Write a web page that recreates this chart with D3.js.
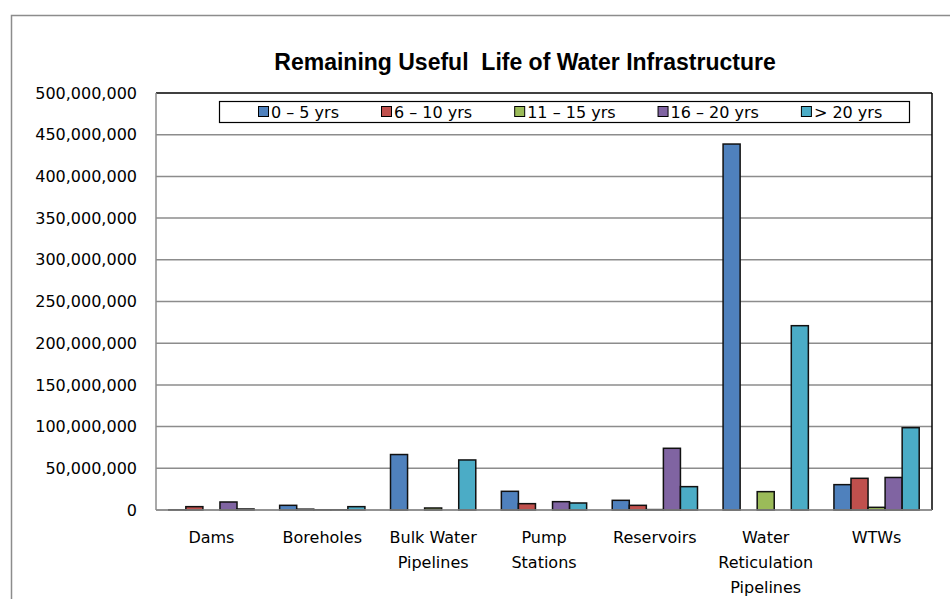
<!DOCTYPE html>
<html>
<head>
<meta charset="utf-8">
<script src="https://cdn.jsdelivr.net/npm/d3@7"></script>
<style>
  body { margin: 0; background: #ffffff; }
  svg { display: block; }
</style>
</head>
<body>
<div id="chart"></div>
<script>
// #####################################################
// Data
//
var categories = ["Dams", "Boreholes", "Bulk Water Pipelines", "Pump Stations",
                  "Reservoirs", "Water Reticulation Pipelines", "WTWs"];
var categoryLines = [["Dams"], ["Boreholes"], ["Bulk Water", "Pipelines"], ["Pump", "Stations"],
                     ["Reservoirs"], ["Water", "Reticulation", "Pipelines"], ["WTWs"]];
var seriesNames = ["0 \u2013 5 yrs", "6 \u2013 10 yrs", "11 \u2013 15 yrs", "16 \u2013 20 yrs", "> 20 yrs"];

var yrs0to5   = [300000, 5600000, 66500000, 22400000, 11600000, 438800000, 30400000];
var yrs6to10  = [4000000, 1000000, 0, 7600000, 5600000, 0, 38000000];
var yrs11to15 = [0, 300000, 2400000, 0, 500000, 22000000, 3200000];
var yrs16to20 = [9600000, 300000, 0, 10000000, 74000000, 0, 39000000];
var yrsOver20 = [1200000, 4000000, 60000000, 8400000, 28000000, 221000000, 98700000];

var yTicks = [0, 50000000, 100000000, 150000000, 200000000, 250000000,
              300000000, 350000000, 400000000, 450000000, 500000000];

var colors = ["#4F81BD", "#C0504D", "#9BBB59", "#8064A2", "#4BACC6"];

var seriesValues = [yrs0to5, yrs6to10, yrs11to15, yrs16to20, yrsOver20];

// #####################################################
// Plot
//
var width = 950, height = 599;
var plot = {left: 156, right: 932, top: 93, bottom: 510};

var svg = d3.select("#chart").append("svg")
    .attr("width", width)
    .attr("height", height);

// outer chart border (runs off the page right and bottom)
svg.append("rect")
    .attr("x", 11.5).attr("y", 15.5)
    .attr("width", 1000).attr("height", 700)
    .style("fill", "none")
    .style("stroke", "#8c8c8c")
    .attr("stroke-width", 1.5);

svg.append("text")
    .attr("x", 525).attr("y", 70)
    .attr("text-anchor", "middle")
    .style("font-family", "'Liberation Sans', Arial, sans-serif")
    .style("font-weight", "bold")
    .style("font-size", "23px")
    .style("white-space", "pre")
    .text("Remaining Useful  Life of Water Infrastructure");

var gap = 1.5 / 6.5;
var x0 = d3.scaleBand()
    .domain(categories)
    .range([plot.left, plot.right])
    .paddingInner(gap)
    .paddingOuter(gap / 2);

var x1 = d3.scaleBand()
    .domain(seriesNames)
    .range([0, x0.bandwidth()]);

var y = d3.scaleLinear()
    .domain([0, 500000000])
    .range([plot.bottom, plot.top]);

// gridlines
svg.append("g")
  .selectAll("line")
  .data(yTicks)
  .enter().append("line")
    .attr("x1", plot.left).attr("x2", plot.right)
    .attr("y1", function(d) { return y(d); })
    .attr("y2", function(d) { return y(d); })
    .style("stroke", function(d) { return d == 500000000 ? "#000000" : "#8c8c8c"; })
    .attr("stroke-width", 1.5);

// left axis line and right frame
svg.append("line")
    .attr("x1", plot.left).attr("x2", plot.left)
    .attr("y1", plot.top).attr("y2", plot.bottom)
    .style("stroke", "#8c8c8c").attr("stroke-width", 1.5);
svg.append("line")
    .attr("x1", plot.right).attr("x2", plot.right)
    .attr("y1", plot.top).attr("y2", plot.bottom)
    .style("stroke", "#000000").attr("stroke-width", 1.5);

// y axis labels
var yAxis = svg.append("g")
    .attr("transform", "translate(" + (plot.left - 19) + ",0)")
    .call(d3.axisLeft(y).tickValues(yTicks).tickSize(0).tickPadding(0)
      .tickFormat(d3.format(",")));
yAxis.select(".domain").remove();
yAxis.selectAll("text")
    .style("font-family", "'DejaVu Sans', sans-serif")
    .style("font-size", "16px")
    .style("fill", "#000000");

// bars
var groups = svg.append("g")
  .selectAll("g")
  .data(categories)
  .enter().append("g")
    .attr("transform", function(d) { return "translate(" + x0(d) + ",0)"; });

groups.selectAll("rect")
    .data(function(d, i) {
      return seriesNames.map(function(s, j) { return {series: s, value: seriesValues[j][i], color: colors[j]}; });
    })
    .enter().append("rect")
      .attr("x", function(d) { return x1(d.series); })
      .attr("width", x1.bandwidth())
      .attr("y", function(d) { return y(d.value); })
      .attr("height", function(d) { return y(0) - y(d.value); })
      .style("fill", function(d) { return d.color; })
      .style("stroke", "#111111")
      .attr("stroke-width", 1.5);

// bottom axis line on top of bars
svg.append("line")
    .attr("x1", plot.left).attr("x2", plot.right)
    .attr("y1", plot.bottom).attr("y2", plot.bottom)
    .style("stroke", "#8c8c8c").attr("stroke-width", 1.5);

// category labels
var xLabels = svg.append("g")
  .selectAll("text")
  .data(categories)
  .enter().append("text")
    .attr("x", function(d) { return x0(d) + x0.bandwidth() / 2; })
    .attr("y", 543)
    .attr("text-anchor", "middle")
    .style("font-family", "'DejaVu Sans', sans-serif")
    .style("font-size", "16px");

xLabels.selectAll("tspan")
    .data(function(d, i) { return categoryLines[i]; })
    .enter().append("tspan")
      .attr("x", function() { return d3.select(this.parentNode).attr("x"); })
      .attr("dy", function(d, i) { return i == 0 ? 0 : 25; })
      .text(function(d) { return d; });

// #####################################################
// Legend
//
var legend = svg.append("g");
legend.append("rect")
    .attr("x", 219.5).attr("y", 101.5)
    .attr("width", 690).attr("height", 21)
    .style("fill", "#ffffff")
    .style("stroke", "#000000")
    .attr("stroke-width", 1.2);

var lx = 258;
seriesNames.forEach(function(name, i) {
  legend.append("rect")
      .attr("x", lx + 0.5).attr("y", 106.5)
      .attr("width", 10).attr("height", 10)
      .style("fill", colors[i])
      .style("stroke", "#000000")
      .attr("stroke-width", 1);
  var t = legend.append("text")
      .attr("x", lx + 13).attr("y", 112)
      .attr("dy", "0.35em")
      .style("font-family", "'DejaVu Sans', sans-serif")
      .style("font-size", "16px")
      .text(name);
  lx = lx + 13 + t.node().getComputedTextLength() + 42;
});
</script>
</body>
</html>
